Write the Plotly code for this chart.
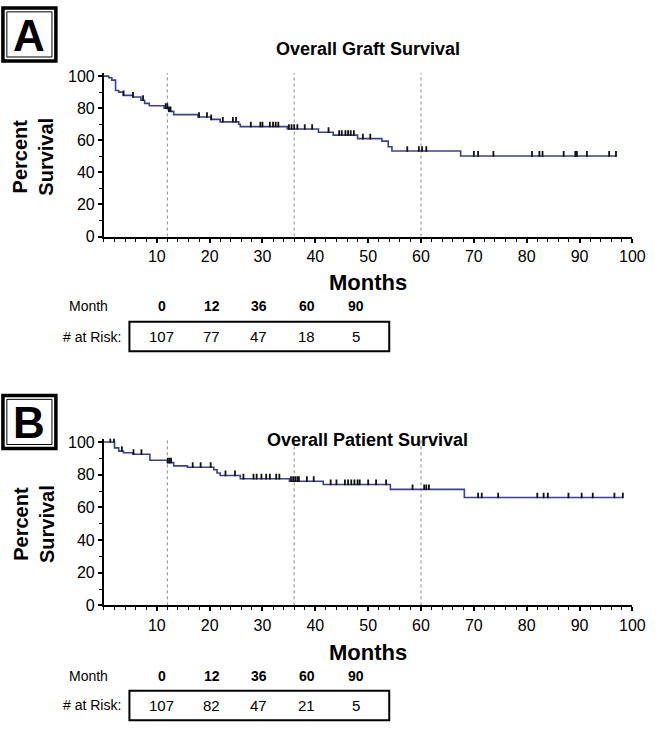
import plotly.graph_objects as go

# ---------------- data ----------------
graft_times = [0, 0.9, 1.5, 2.2, 2.8, 3.7, 5.5, 7.0, 7.7, 8.6, 11.4, 12.3, 13.2, 17.8, 20.3, 22.0,
               25.5, 25.8, 34.7, 40.6, 43.4, 48.0, 52.6, 53.8, 54.5, 67.5]
graft_surv = [100, 99, 97.5, 91, 90, 88, 87, 85, 83, 81.5, 80, 78, 76, 74.5, 73, 71.5,
              70, 68.5, 67, 65, 63.2, 61, 59.5, 56, 53.3, 50.2]
graft_end = 97.0
graft_censor = [3.7, 5.5, 7.4, 11.7, 12.0, 12.3, 12.6, 18.0, 19.5, 20.3, 22.5, 24.4, 25.0, 27.8,
                29.6, 30.0, 31.4, 32.0, 32.5, 33.0, 35.0, 35.5, 36.0, 36.6, 38.0, 39.4, 42.5,
                44.5, 45.0, 45.7, 46.2, 46.7, 47.3, 49.0, 50.4, 57.4, 59.6, 60.2, 61.0, 70.0,
                70.8, 73.7, 81.0, 82.4, 83.0, 87.0, 89.2, 89.5, 91.4, 95.6, 96.9]

patient_times = [0, 2.0, 2.8, 3.7, 5.5, 8.7, 12.0, 13.2, 15.8, 20.8, 21.4, 22.0, 25.8, 35.1,
                 41.5, 54.2, 68.2]
patient_surv = [100, 96.4, 94.4, 93.4, 92.5, 88.8, 87.4, 85.4, 84.6, 83, 81, 79.5, 77.5, 76,
                74, 71, 66]
patient_end = 98.2
patient_censor = [1.2, 1.9, 3.4, 5.6, 7.1, 12.1, 12.4, 12.7, 16.8, 18.3, 20.2, 23.0, 24.8, 26.4,
                  28.3, 28.9, 29.8, 30.7, 31.4, 32.6, 33.2, 35.4, 35.8, 36.2, 36.6, 36.9, 38.4,
                  39.7, 42.9, 44.0, 45.6, 46.2, 46.8, 47.4, 48.0, 48.4, 50.0, 51.5, 53.4, 58.4,
                  60.6, 61.0, 61.5, 70.8, 71.5, 74.6, 82.0, 83.2, 84.0, 87.9, 90.4, 92.5, 96.6,
                  98.2]

ref_months = [12, 36, 60]
risk_months = ["0", "12", "36", "60", "90"]
graft_risk = ["107", "77", "47", "18", "5"]
patient_risk = ["107", "82", "47", "21", "5"]
x_ticks = [10, 20, 30, 40, 50, 60, 70, 80, 90, 100]
y_ticks = [0, 20, 40, 60, 80, 100]

# ---------------- helpers ----------------
W, H = 665, 736
FONT = "Liberation Sans Narrow, Arial Narrow, Liberation Sans, Arial, sans-serif"
BOLD = "Liberation Sans, Arial, sans-serif"
LINE_COLOR = "#3b3f98"


def px(x):
    return x / W


def py(y):
    return 1 - y / H


def surv_at(times, surv, t):
    v = surv[0]
    for ti, si in zip(times, surv):
        if ti <= t:
            v = si
    return v


fig = go.Figure()

panels = [
    dict(times=graft_times, surv=graft_surv, end=graft_end, cens=graft_censor, risk=graft_risk,
         title="Overall Graft Survival", letter="A", xa="x", ya="y",
         y0=236, y100=72.5, box_top=3, title_y=45, months_y=283,
         month_row=307, rbox=(323, 353)),
    dict(times=patient_times, surv=patient_surv, end=patient_end, cens=patient_censor,
         risk=patient_risk, title="Overall Patient Survival", letter="B", xa="x2", ya="y2",
         y0=612, y100=445.5, box_top=398, title_y=443, months_y=660,
         month_row=684, rbox=(699, 729)),
]

X0, X100 = 106, 645
shapes = []
annotations = []

for i, p in enumerate(panels):
    t = list(p["times"]) + [p["end"]]
    s = list(p["surv"]) + [p["surv"][-1]]
    fig.add_trace(go.Scatter(x=t, y=s, mode="lines", line=dict(color=LINE_COLOR, width=1.6, shape="hv"),
                             xaxis=p["xa"], yaxis=p["ya"], showlegend=False, hoverinfo="skip"))
    cy = [surv_at(p["times"], p["surv"], c) + 1.3 for c in p["cens"]]
    fig.add_trace(go.Scatter(x=p["cens"], y=cy, mode="markers",
                             marker=dict(symbol="line-ns", size=4, line=dict(color="#111111", width=1.8)),
                             xaxis=p["xa"], yaxis=p["ya"], showlegend=False, hoverinfo="skip"))

    per = (p["y0"] - p["y100"]) / 100.0
    ytop = p["y0"] - per * 102
    suffix = "" if i == 0 else "2"
    fig.update_layout(**{
        "xaxis" + suffix: dict(domain=[px(X0), px(X100)], range=[0, 100], anchor=p["ya"],
                               tickvals=x_ticks, ticks="outside", ticklen=4, tickwidth=1.5,
                               tickcolor="black", showline=True, linecolor="black", linewidth=2,
                               showgrid=False, zeroline=False,
                               tickfont=dict(family=FONT, size=16, color="black"),
                               minor=dict(dtick=2, ticks="outside", ticklen=3, tickwidth=1.2,
                                          tickcolor="black", showgrid=False)),
        "yaxis" + suffix: dict(domain=[py(p["y0"]), py(ytop)], range=[0, 102], anchor=p["xa"],
                               tickvals=y_ticks, ticks="outside", ticklen=4, tickwidth=1.5,
                               tickcolor="black", showline=True, linecolor="black", linewidth=2,
                               showgrid=False, zeroline=False,
                               tickfont=dict(family=FONT, size=16, color="black"),
                               minor=dict(dtick=10, ticks="outside", ticklen=3, tickwidth=1.2,
                                          tickcolor="black", showgrid=False)),
    })

    for m in ref_months:
        shapes.append(dict(type="line", xref=p["xa"], yref=p["ya"], x0=m, x1=m, y0=0, y1=102,
                           line=dict(color="#8a8a8a", width=1, dash="dot"), layer="below"))

    bt = p["box_top"]
    shapes.append(dict(type="rect", xref="paper", yref="paper", x0=px(3), x1=px(57),
                       y0=py(bt + 54), y1=py(bt), line=dict(color="black", width=3.5)))
    shapes.append(dict(type="rect", xref="paper", yref="paper", x0=px(7), x1=px(53),
                       y0=py(bt + 50), y1=py(bt + 4), line=dict(color="black", width=1)))
    annotations.append(dict(text="<b>%s</b>" % p["letter"], x=px(30), y=py(bt + 28), xref="paper",
                            yref="paper", showarrow=False, xanchor="center", yanchor="middle",
                            font=dict(family=BOLD, size=44, color="black")))
    annotations.append(dict(text="<b>%s</b>" % p["title"], x=px(375), y=py(p["title_y"]),
                            xref="paper", yref="paper", showarrow=False, xanchor="center",
                            yanchor="middle", font=dict(family=BOLD, size=18, color="black")))
    annotations.append(dict(text="<b>Percent<br>Survival</b>", x=px(34),
                            y=py((p["y0"] + p["y100"]) / 2), xref="paper", yref="paper",
                            showarrow=False, textangle=-90, xanchor="center", yanchor="middle",
                            font=dict(family=BOLD, size=20, color="black")))
    annotations.append(dict(text="<b>Months</b>", x=px(375), y=py(p["months_y"]), xref="paper",
                            yref="paper", showarrow=False, xanchor="center", yanchor="middle",
                            font=dict(family=BOLD, size=22, color="black")))

    cols = [165, 216, 264, 313, 363]
    annotations.append(dict(text="Month", x=px(90), y=py(p["month_row"]), xref="paper",
                            yref="paper", showarrow=False, xanchor="center", yanchor="middle",
                            font=dict(family=FONT, size=14, color="black")))
    r0, r1 = p["rbox"]
    annotations.append(dict(text="# at Risk:", x=px(125), y=py((r0 + r1) / 2), xref="paper",
                            yref="paper", showarrow=False, xanchor="right", yanchor="middle",
                            font=dict(family=FONT, size=14, color="black")))
    for cx, m, r in zip(cols, risk_months, p["risk"]):
        annotations.append(dict(text="<b>%s</b>" % m, x=px(cx), y=py(p["month_row"]), xref="paper",
                                yref="paper", showarrow=False, xanchor="center", yanchor="middle",
                                font=dict(family=FONT, size=14, color="black")))
        annotations.append(dict(text=r, x=px(cx), y=py((r0 + r1) / 2), xref="paper",
                                yref="paper", showarrow=False, xanchor="center", yanchor="middle",
                                font=dict(family=FONT, size=15, color="black")))
    shapes.append(dict(type="rect", xref="paper", yref="paper", x0=px(132), x1=px(397),
                       y0=py(r1), y1=py(r0), line=dict(color="black", width=2)))

fig.update_layout(width=W, height=H, margin=dict(l=0, r=0, t=0, b=0),
                  paper_bgcolor="white", plot_bgcolor="white",
                  shapes=shapes, annotations=annotations)

fig.write_html("out.html")
